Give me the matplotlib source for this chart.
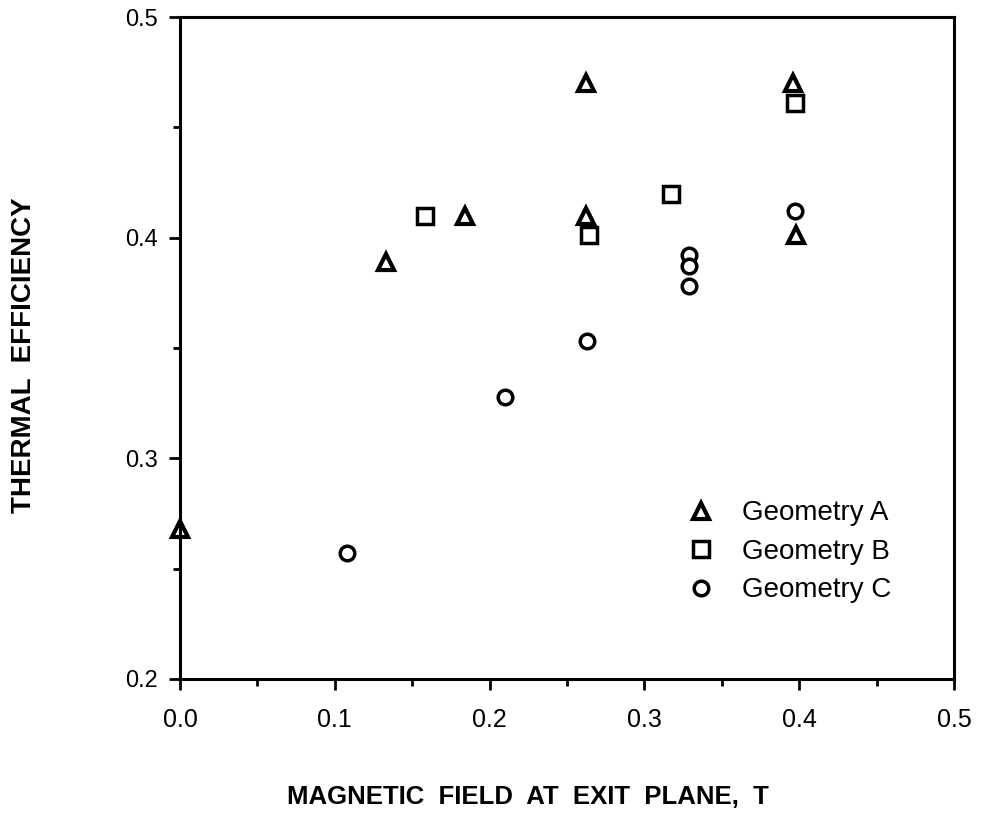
import matplotlib
matplotlib.use("Agg")
import matplotlib.pyplot as plt
from matplotlib.ticker import MultipleLocator, FormatStrFormatter

plt.rcParams['font.family'] = ['Liberation Sans', 'DejaVu Sans']

# Data
geomA_x = [0.0, 0.133, 0.184, 0.262, 0.262, 0.396, 0.398]
geomA_y = [0.268, 0.389, 0.410, 0.470, 0.410, 0.470, 0.401]
geomB_x = [0.158, 0.264, 0.317, 0.397]
geomB_y = [0.410, 0.401, 0.420, 0.461]
geomC_x = [0.108, 0.210, 0.263, 0.329, 0.329, 0.329, 0.397]
geomC_y = [0.257, 0.328, 0.353, 0.392, 0.387, 0.378, 0.412]

labels = ["Geometry A", "Geometry B", "Geometry C"]
x_ticks = [0.0, 0.1, 0.2, 0.3, 0.4, 0.5]
y_ticks = [0.2, 0.3, 0.4, 0.5]

fig = plt.figure(figsize=(9.81, 8.14), dpi=100)
ax = fig.add_axes([0.1835, 0.166, 0.789, 0.813])

mk = dict(linestyle='none', markerfacecolor='white', markeredgecolor='black',
          clip_on=False)
ax.plot(geomA_x, geomA_y, marker='^', markersize=12, markeredgewidth=3.0,
        label=labels[0], **mk)
ax.plot(geomB_x, geomB_y, marker='s', markersize=11, markeredgewidth=2.5,
        label=labels[1], **mk)
ax.plot(geomC_x, geomC_y, marker='o', markersize=10.5, markeredgewidth=2.5,
        label=labels[2], **mk)

ax.set_xlim(0.0, 0.5)
ax.set_ylim(0.2, 0.5)
ax.set_xticks(x_ticks)
ax.set_yticks(y_ticks)
ax.xaxis.set_minor_locator(MultipleLocator(0.05))
ax.yaxis.set_minor_locator(MultipleLocator(0.05))
ax.xaxis.set_major_formatter(FormatStrFormatter('%.1f'))
ax.yaxis.set_major_formatter(FormatStrFormatter('%.1f'))

for s in ax.spines.values():
    s.set_linewidth(2.2)

ax.tick_params(axis='both', which='major', direction='out', length=8, width=2)
ax.tick_params(axis='both', which='minor', direction='out', length=5, width=2)
ax.tick_params(axis='x', which='major', pad=13, labelsize=18)
ax.tick_params(axis='y', which='major', pad=8, labelsize=17)

ax.set_xlabel("MAGNETIC  FIELD  AT  EXIT  PLANE,  T", fontsize=18.5,
              fontweight='bold')
ax.xaxis.set_label_coords(0.449, -0.160)
ax.set_ylabel("THERMAL  EFFICIENCY", fontsize=20, fontweight='bold')
ax.yaxis.set_label_coords(-0.185, 0.489)

leg = ax.legend(loc='center left', bbox_to_anchor=(0.659, 0.192), frameon=False,
                fontsize=20, handlelength=0.8, handletextpad=1.07,
                labelspacing=0.45, borderpad=0, borderaxespad=0)

fig.savefig("out.png", dpi=100)
